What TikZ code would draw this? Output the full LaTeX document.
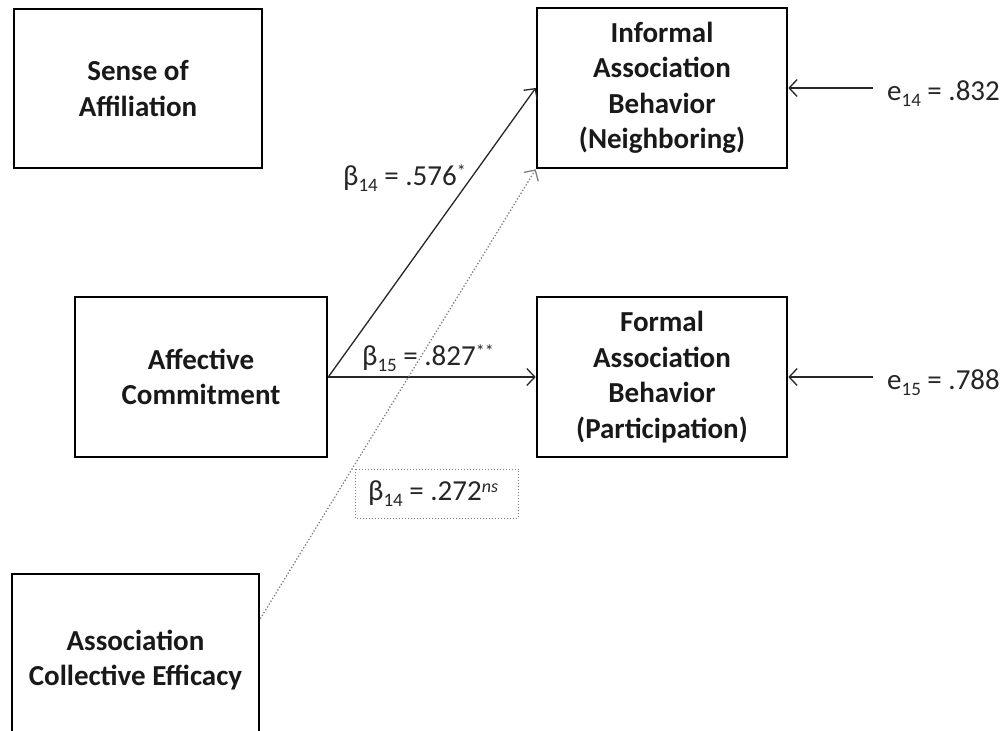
\documentclass[tikz,border=0pt]{standalone}
\usepackage{fontspec}
\setmainfont{Carlito}
\usetikzlibrary{calc,arrows.meta}
% lowered and raised indices in the coefficient labels
\newcommand{\lowsub}[1]{\raisebox{-6pt}{\fontsize{19}{19}\selectfont #1}}
\newcommand{\highsup}[1]{\raisebox{8pt}{\fontsize{18}{18}\selectfont #1}}
\begin{document}
\begin{tikzpicture}[x=1pt,y=-1pt,
  varbox/.style={draw=black, line width=2.6pt, align=center,
    font=\bfseries\fontsize{29}{35.5}\selectfont, text=black!90,
    inner sep=0pt, minimum width=250pt, minimum height=160pt},
  coef/.style={font=\fontsize{29}{30}\selectfont, text=black!85, inner sep=0pt, anchor=base west},
  arrowtip/.tip={Straight Barb[length=8pt,width=17pt,line width=1.3pt]},
  effect/.style={draw=black!85, line width=1.3pt, -arrowtip},
  nseffect/.style={draw=black!50, line width=1.3pt, dotted, -arrowtip}]
  \fill[white] (0,0) rectangle (1005,731);
  \useasboundingbox (0,0) rectangle (1005,731);

  % variables
  \node[varbox, minimum width=248pt, minimum height=159pt] (soa) at (138,88.5) {Sense of\\Affiliation};
  \node[varbox] (inf) at (662,88) {Informal\\Association\\Behavior\\(Neighboring)};
  \node[varbox, minimum width=252pt] (ac) at (201,377) {Affective\\Commitment};
  \node[varbox] (fab) at (662,377) {Formal\\Association\\Behavior\\(Participation)};
  \node[varbox, minimum width=247pt, minimum height=172pt] (ace) at (135.5,660) {Association\\Collective Efficacy};

  % residuals
  \node[coef] (e14) at (887,100) {e\lowsub{14} = .832};
  \node[coef] (e15) at (887,389) {e\lowsub{15} = .788};
  \coordinate (t14) at (873,88);
  \coordinate (t15) at (873,377);
  \draw[effect] (t14) -- (inf.east);
  \draw[effect] (t15) -- (fab.east);

  % paths
  \draw[effect] (ac.east) -- (inf.west);
  \draw[effect] (ac.east) -- (fab.west);
  \coordinate (acefrom) at ($(ace.north east)+(0,46)$);
  \draw[nseffect] (acefrom) -- (inf.south west);

  % coefficients
  \node[coef] (b14) at (343,185) {β\lowsub{14} = .576\highsup{*}};
  \node[coef] (b15) at (362,365) {β\lowsub{15} = .827\highsup{**}};
  \node[coef] (b14ns) at (368,500) {β\lowsub{14} = .272\highsup{\itshape ns}};
  \draw[draw=black!50, dotted, line width=1pt] ($(b14ns.west)+(-13,-24)$) rectangle ($(b14ns.east)+(20,25)$);
\end{tikzpicture}
\end{document}
